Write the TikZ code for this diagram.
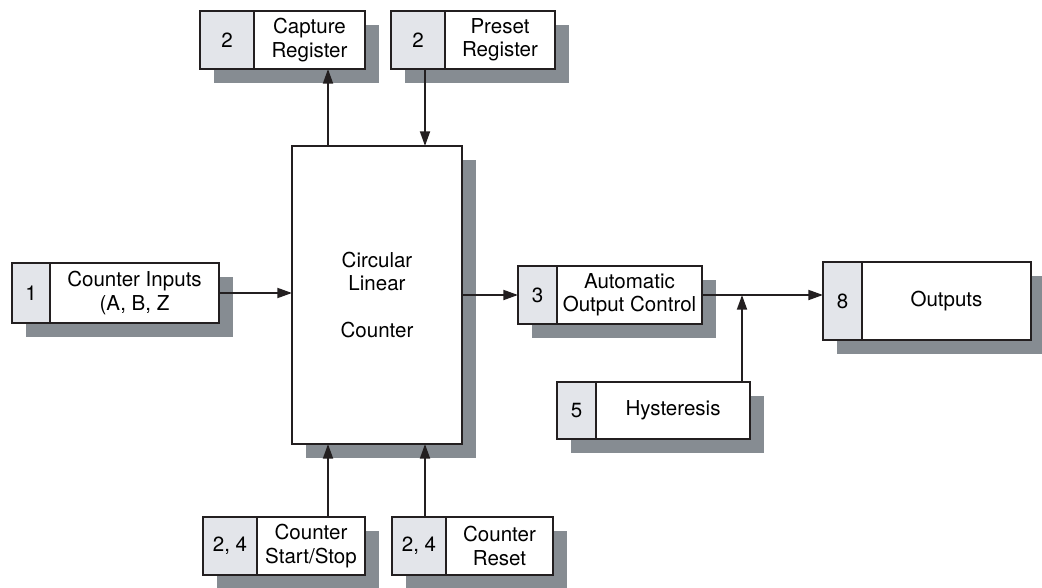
\documentclass[tikz,border=0pt]{standalone}
\usepackage{fontspec}
\setmainfont{TeX Gyre Heros}
\usetikzlibrary{positioning,arrows.meta,shadows}
\newlength{\px}
\setlength{\px}{0.75pt}
\definecolor{shadowgray}{RGB}{134,140,146}
\definecolor{cellgray}{RGB}{227,229,234}
\definecolor{inkblack}{RGB}{35,31,32}
\tikzset{
    box/.style={draw=inkblack, line width=2\px, fill=white, inner sep=0pt, outer sep=0pt,
        align=center, font=\fontsize{15.4}{17.4}\selectfont,
        general shadow={fill=shadowgray, shadow xshift=10.5pt, shadow yshift=-10.5pt}},
    numcell/.style={box, fill=cellgray, anchor=north west},
    txtcell/.style={box},
    cellsize/.style 2 args={minimum width=#1\px, minimum height=#2\px},
    arrow/.style={-{Triangle[length=11pt,width=7.5pt]}, draw=inkblack, line width=1.8\px}
}
\begin{document}
\begin{tikzpicture}[x=0.75pt, y=-0.75pt]
        \useasboundingbox (0,0) rectangle (1042,588);
        \node[box, anchor=north west, cellsize={170}{298}] (counter) at (292,146)
            {Circular\\Linear\\[17.4pt]Counter};
        \node[numcell, cellsize={54}{58}] (capn) at (200,11) {2};
        \node[txtcell, cellsize={111}{58}, right=0pt of capn] (capt) {Capture\\Register};
        \node[numcell, cellsize={54}{58}] (pren) at (391,11) {2};
        \node[txtcell, cellsize={110}{58}, right=0pt of pren] (pret) {Preset\\Register};
        \node[numcell, cellsize={38}{60}] (inpn) at (12,263) {1};
        \node[txtcell, cellsize={169}{60}, right=0pt of inpn] (inpt) {Counter Inputs\\(A, B, Z};
        \node[numcell, cellsize={39}{58}] (aocn) at (518,266) {3};
        \node[txtcell, cellsize={145}{58}, right=0pt of aocn] (aoct) {Automatic\\Output Control};
        \node[numcell, cellsize={39}{78}] (outn) at (823,262) {8};
        \node[txtcell, cellsize={169}{78}, right=0pt of outn] (outt) {Outputs};
        \node[numcell, cellsize={39}{57}] (hysn) at (557,382) {5};
        \node[txtcell, cellsize={154}{57}, right=0pt of hysn] (hyst) {Hysteresis};
        \node[numcell, cellsize={54}{58}] (stan) at (203,517) {2, 4};
        \node[txtcell, cellsize={108}{58}, right=0pt of stan] (stat) {Counter\\Start/Stop};
        \node[numcell, cellsize={54}{58}] (resn) at (392,517) {2, 4};
        \node[txtcell, cellsize={107}{58}, right=0pt of resn] (rest) {Counter\\Reset};
        \coordinate (leftx) at ([xshift=-49\px]counter.north);
        \coordinate (rightx) at ([xshift=48\px]counter.north);
        \coordinate (junc) at ([xshift=40\px]aoct.east);
        \draw[arrow] (leftx) -- (leftx |- capt.south);
        \draw[arrow] (rightx |- pret.south) -- (rightx);
        \draw[arrow] (leftx |- stat.north) -- (leftx |- counter.south);
        \draw[arrow] (rightx |- rest.north) -- (rightx |- counter.south);
        \draw[arrow] (inpt.east) -- (inpt.east -| counter.west);
        \draw[arrow] (aocn.west -| counter.east) -- (aocn.west);
        \draw[arrow] (aoct.east) -- (aoct.east -| outn.west);
        \draw[arrow] (junc |- hyst.north) -- (junc);
    \end{tikzpicture}
\end{document}
